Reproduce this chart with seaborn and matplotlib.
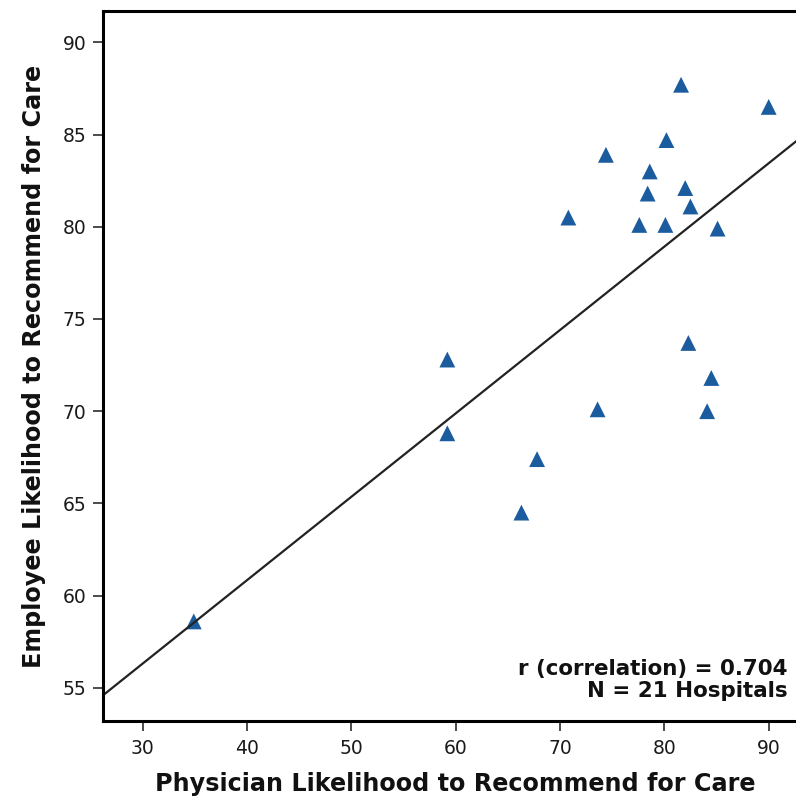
import matplotlib
matplotlib.use("Agg")
import matplotlib.pyplot as plt
import seaborn as sns
import pandas as pd

physician = [81.6, 90.0, 80.2, 74.4, 78.6, 82.0, 78.4, 82.5, 70.8, 77.6, 80.1,
             85.1, 59.2, 82.3, 84.5, 73.6, 84.1, 59.2, 67.8, 66.3, 34.9]
employee = [87.7, 86.5, 84.7, 83.9, 83.0, 82.1, 81.8, 81.1, 80.5, 80.1, 80.1,
            79.9, 72.8, 73.7, 71.8, 70.1, 70.0, 68.8, 67.4, 64.5, 58.6]

xticks = [30, 40, 50, 60, 70, 80, 90]
yticks = [55, 60, 65, 70, 75, 80, 85, 90]
annotation = "r (correlation) = 0.704\nN = 21 Hospitals"
xlabel = "Physician Likelihood to Recommend for Care"
ylabel = "Employee Likelihood to Recommend for Care"

df = pd.DataFrame({"physician": physician, "employee": employee})

sns.set_style("ticks")
plt.rcParams["font.family"] = ["DejaVu Sans"]

fig = plt.figure(figsize=(7.96, 8.0), dpi=100)
ax = fig.add_axes([103 / 796, 1 - 721 / 800, (807 - 103) / 796, (721 - 11) / 800])

# axis calibration
ax.set_xlim(26.2, 93.67)
ax.set_ylim(53.2, 91.7)

sns.regplot(data=df, x="physician", y="employee", ax=ax, ci=None, truncate=False,
            marker="^",
            scatter_kws=dict(s=130, color="#1a5c9e", edgecolors="none", alpha=1),
            line_kws=dict(color="#222222", lw=1.6))

ax.set_xticks(xticks)
ax.set_yticks(yticks)
ax.tick_params(axis="both", labelsize=13.5, colors="#1a1a1a", length=7, width=1.1,
               direction="out")
ax.tick_params(axis="x", pad=6)
ax.tick_params(axis="y", pad=5)

for side in ["left", "bottom", "top"]:
    ax.spines[side].set_linewidth(2.2)
    ax.spines[side].set_color("black")
    ax.spines[side].set_visible(True)
ax.spines["right"].set_visible(False)

ax.set_xlabel(xlabel, fontsize=17.2, fontweight="bold", labelpad=10, color="#111111")
ax.set_ylabel(ylabel, fontsize=17.2, fontweight="bold", labelpad=12, color="#111111")

fig.text(788 / 796, 1 - 680 / 800, annotation, ha="right", va="center",
         fontsize=15.4, fontweight="bold", linespacing=1.15, color="#111111")

fig.savefig("out.png", dpi=100)
